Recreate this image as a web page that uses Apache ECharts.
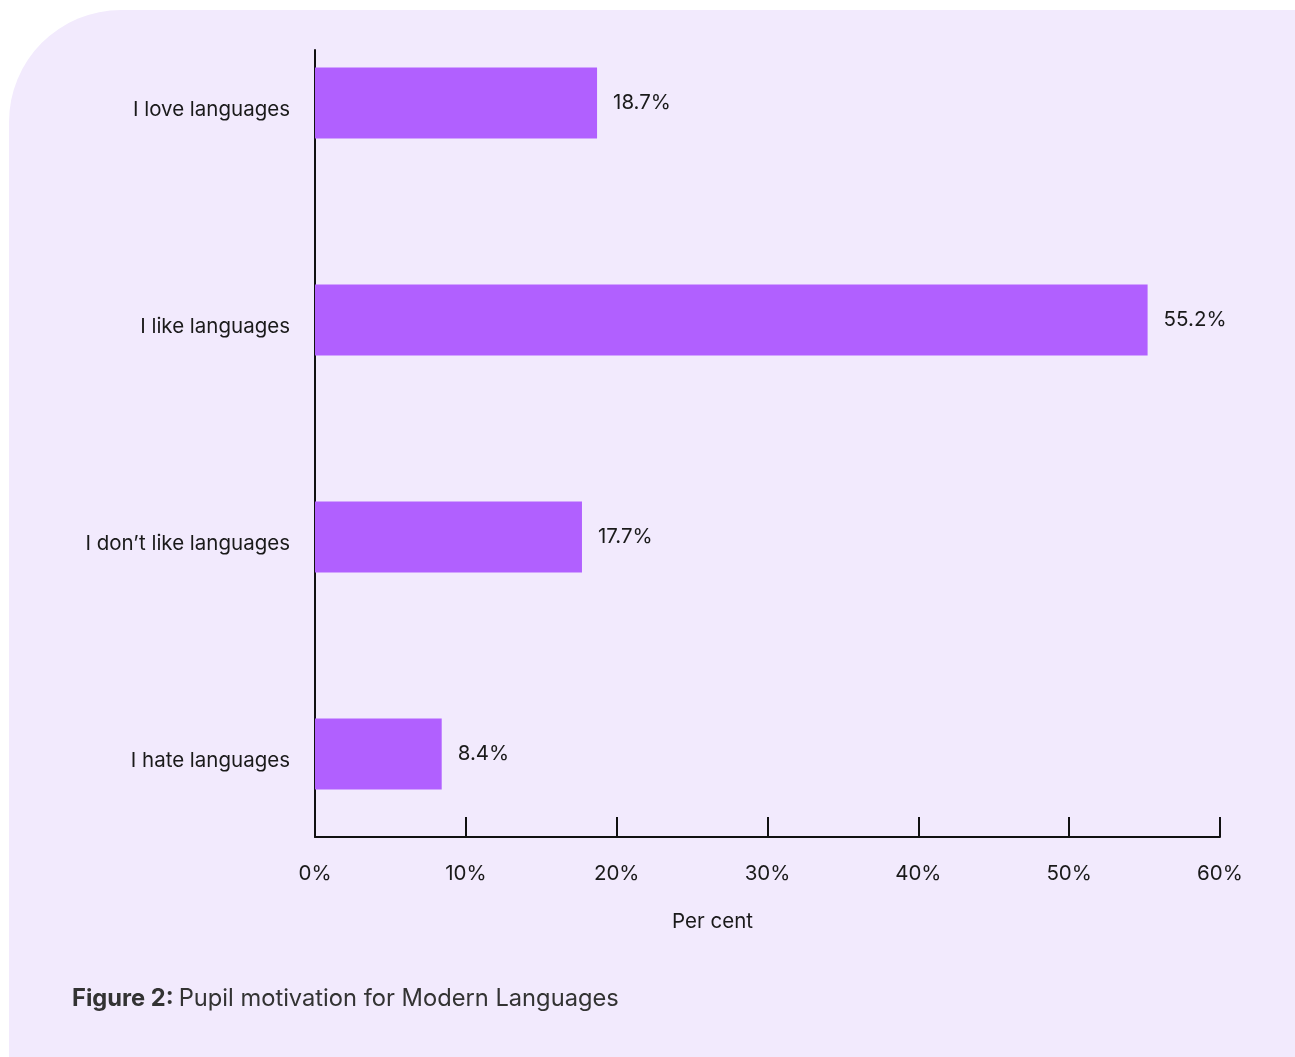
<!DOCTYPE html>
<html>
<head>
<meta charset="utf-8">
<script src="https://cdn.jsdelivr.net/npm/echarts@6/dist/echarts.min.js"></script>
<style>
  html, body { margin: 0; padding: 0; background: #ffffff; width: 1295px; height: 1057px; overflow: hidden; position: relative; }
  #panel { position: absolute; left: 9px; top: 10px; width: 1286px; height: 1092px; background: #f2eafd;
           border-radius: 112px 0 45px 0; }
  #chart { position: absolute; left: 0; top: -20px; width: 1295px; height: 1077px; }
</style>
</head>
<body>
<div id="panel"></div>
<div id="chart"></div>
<script>
const categories = ['I love languages', 'I like languages', 'I don\u2019t like languages', 'I hate languages'];
const values = [18.7, 55.2, 17.7, 8.4];
const xTicks = [0, 10, 20, 30, 40, 50, 60];
const axisName = 'Per cent';
const captionBold = 'Figure 2:';
const captionText = 'Pupil motivation for Modern Languages';

const FONT = 'Inter, "Noto Sans", sans-serif';
const FS = 20.5;
const chart = echarts.init(document.getElementById('chart'), null, { renderer: 'canvas' });
chart.setOption({
  backgroundColor: 'transparent',
  animation: false,
  title: {
    left: 67, top: 1002,
    text: '{b|' + captionBold + '} {n|' + captionText + '}',
    textStyle: {
      fontWeight: 'normal',
      rich: {
        b: { fontFamily: FONT, fontSize: 23.7, fontWeight: 'bold', color: '#333333' },
        n: { fontFamily: FONT, fontSize: 23.7, fontWeight: 'normal', color: '#333333' }
      }
    }
  },
  grid: [
    { left: 315, right: 75, top: 14.5, bottom: 194.5 },
    { left: 315, right: 75, top: 70, bottom: 220 }
  ],
  xAxis: [
    { gridIndex: 0, type: 'value', min: xTicks[0], max: xTicks[xTicks.length - 1], interval: 10, show: false },
    { gridIndex: 1, type: 'value', min: xTicks[0], max: xTicks[xTicks.length - 1], interval: 10,
      position: 'bottom',
      axisLine: { show: true, lineStyle: { color: '#111111', width: 2 } },
      axisTick: { show: true, inside: true, length: 20, lineStyle: { color: '#111111', width: 2 } },
      splitLine: { show: false },
      axisLabel: { margin: 26, fontFamily: FONT, fontSize: FS, color: '#1a1a1a', formatter: v => v + '%' },
      name: axisName, nameLocation: 'middle', nameGap: 74,
      nameTextStyle: { fontFamily: FONT, fontSize: FS, color: '#1a1a1a', padding: [0, 110, 0, 0] }
    }
  ],
  yAxis: [
    { gridIndex: 0, type: 'category', data: categories, inverse: true,
      axisLine: { show: false }, axisTick: { show: false },
      axisLabel: { margin: 25, fontFamily: FONT, fontSize: FS, color: '#1a1a1a',
        formatter: v => '{c|' + v + '}',
        rich: { c: { fontFamily: FONT, fontSize: FS, color: '#1a1a1a', padding: [14, 0, 0, 0] } } } },
    { gridIndex: 1, type: 'value', min: 0, max: 1,
      axisLine: { show: true, lineStyle: { color: '#111111', width: 2 } },
      axisTick: { show: false }, axisLabel: { show: false }, splitLine: { show: false } }
  ],
  series: [{
    type: 'bar', xAxisIndex: 0, yAxisIndex: 0,
    data: values, barWidth: 71,
    itemStyle: { color: '#b160ff' },
    label: { show: true, position: 'right', distance: 16,
      fontFamily: FONT, fontSize: FS, color: '#1a1a1a', formatter: p => p.value.toFixed(1) + '%' }
  }]
});
</script>
</body>
</html>
